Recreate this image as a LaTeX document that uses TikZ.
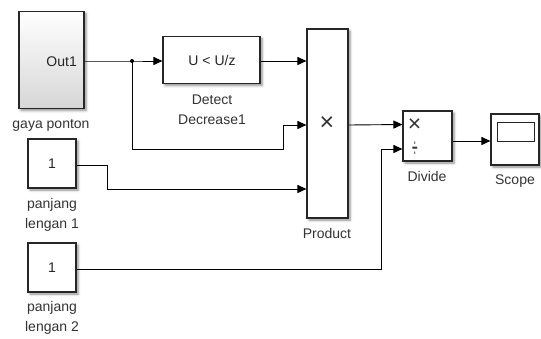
\documentclass[tikz,border=0pt]{standalone}
\usepackage{fontspec}
\setmainfont{Liberation Sans}
\usetikzlibrary{arrows.meta,shadows.blur,calc}
\begin{document}
\begin{tikzpicture}[x=1pt,y=-1pt,
  blk/.style={draw=black!85, line width=1.1pt, fill=white, inner sep=0pt,
    blur shadow={shadow xshift=2pt, shadow yshift=-2pt, shadow blur steps=6, shadow opacity=45, shadow blur radius=2.5pt}},
  lbl/.style={font=\fontsize{14}{20}\selectfont, text=black!80, align=center, inner sep=0pt},
  txt/.style={font=\fontsize{14}{16}\selectfont, text=black!85, inner sep=0pt},
  sym/.style={font=\fontsize{25}{25}\selectfont, text=black!80, inner sep=0pt},
  wire/.style={line width=0.9pt, draw=black},
  arr/.style={wire, -{Triangle[length=9pt,width=8pt]}}]
\useasboundingbox (0,0) rectangle (541,338);
% blocks
\node[blk, minimum width=65pt, minimum height=97pt, top color=white, bottom color=black!16] (gaya) at (51.5,60) {};
\node[txt, anchor=east] (out1) at (77,62) {Out1};
\node[blk, minimum width=97pt, minimum height=47pt] (detect) at (211.5,60) {};
\node[txt] (detectt) at (212,60) {U < U/z};
\node[blk, minimum width=41pt, minimum height=189pt] (product) at (327.5,123.5) {};
\node[sym] (prodx) at (327,124) {×};
\node[blk, minimum width=48pt, minimum height=49pt] (c1) at (52,163.5) {};
\node[txt] (c1t) at (52,164) {1};
\node[blk, minimum width=48pt, minimum height=49pt] (c2) at (52,267.5) {};
\node[txt] (c2t) at (52,268) {1};
\node[blk, minimum width=49pt, minimum height=50pt] (divide) at (427.5,136) {};
\node[sym, font=\fontsize{23}{23}\selectfont] (divx) at (414.5,125) {×};
\node[sym, font=\fontsize{28}{28}\selectfont] (divd) at (415,150) {\scalebox{0.36}[1]{÷}};
\node[blk, minimum width=48pt, minimum height=51pt] (scope) at (515,139.5) {};
\node[draw=black!85, line width=1pt, minimum width=37pt, minimum height=19pt, inner sep=0pt] (screen) at (515.5,131.5) {};
% labels
\node[lbl] (gayal) at (51,125) {gaya ponton};
\node[lbl] (detectl) at (212,110) {Detect\\Decrease1};
\node[lbl] (c1l) at (52,215) {panjang\\lengan 1};
\node[lbl] (c2l) at (52,318) {panjang\\lengan 2};
\node[lbl] (productl) at (327,233) {Product};
\node[lbl] (dividel) at (427,176) {Divide};
\node[lbl] (scopel) at (515,181) {Scope};
% ports
\coordinate (g1) at (gaya.east |- 0,61);
\coordinate (br) at (132,61);
\coordinate (d1) at (detect.west |- 0,61);
\coordinate (d2) at (detect.east |- 0,61);
\coordinate (p1) at (product.west |- 0,61);
\coordinate (p2) at (product.west |- 0,125);
\coordinate (p3) at (product.west |- 0,189);
\coordinate (po) at (product.east |- 0,125);
\coordinate (v1) at (divide.west |- 0,124.5);
\coordinate (v2) at (divide.west |- 0,149);
\coordinate (vo) at (divide.east |- 0,141);
\coordinate (s1) at (scope.west |- 0,141);
\coordinate (k1) at (c1.east |- 0,165);
\coordinate (k2) at (c2.east |- 0,269);
% wires
\draw[arr] (g1) -- (br) -- (d1);
\fill (br) circle (2pt);
\draw[arr] (br) -- (132,149) -- (283,149) -- (283,125) -- (p2);
\draw[arr] (d2) -- (p1);
\draw[arr] (k1) -- (107,165) -- (107,189) -- (p3);
\draw[arr] (po) -- (v1);
\draw[arr] (k2) -- (381,269) -- (381,149) -- (v2);
\draw[arr] (vo) -- (s1);
\end{tikzpicture}
\end{document}
